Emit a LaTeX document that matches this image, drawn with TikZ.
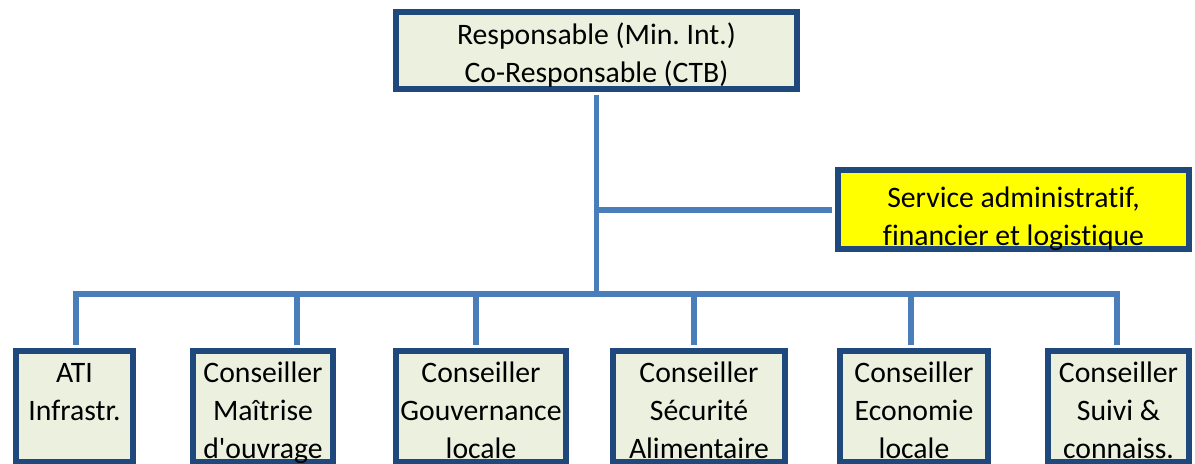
\documentclass[tikz,border=0pt]{standalone}
\usepackage{fontspec}
\setmainfont{Carlito}[Ligatures=NoCommon]
\definecolor{lnblue}{HTML}{4A7EBB}
\definecolor{bddark}{HTML}{1F497D}
\definecolor{bxfill}{HTML}{EBF1DE}
\definecolor{svyellow}{HTML}{FFFF00}
\tikzset{
  box/.style={draw=bddark,line width=3.4pt,fill=bxfill,align=flush center,inner sep=0pt,anchor=north,
              font=\fontsize{16.9}{21.6}\selectfont\frenchspacing},
  link/.style={draw=lnblue,line width=3.4pt},
}

\begin{document}
\begin{tikzpicture}[
  head/.style={box,text width=8.02cm,text height=18.5pt,text depth=25.3pt},
  svc/.style={box,fill=svyellow,text width=7.02cm,text height=21.3pt,text depth=23.7pt},
  low/.style={box,text height=18.2pt,text depth=45pt}]
\useasboundingbox (0,0) rectangle (23.9,9.28);
% head and service
\node[head] (top) at (11.93,9.10) {Responsable (Min. Int.)\\Co-Responsable (CTB)};
\node[svc] (adm) at (20.27,5.94) {Service administratif,\\financier et logistique};
% advisers
\node[low,text width=2.34cm] (b1) at (1.49,2.32) {ATI\\Infrastr.};
\node[low,text width=2.80cm] (b2) at (5.26,2.32) {Conseiller\\Maîtrise\\d\textquotesingle ouvrage};
\node[low,text width=3.40cm] (b3) at (9.62,2.32) {Conseiller\\Gouvernance\\locale};
\node[low,text width=3.44cm] (b4) at (13.98,2.32) {Conseiller\\Sécurité\\Alimentaire};
\node[low,text width=2.96cm] (b5) at (18.28,2.32) {Conseiller\\Economie\\locale};
\node[low,text width=2.82cm] (b6) at (22.37,2.32) {Conseiller\\Suivi \&\\connaiss.};
% bus
\coordinate (d1) at (1.52,3.40);
\coordinate (d2) at (5.94,3.40);
\coordinate (d3) at (9.52,3.40);
\coordinate (d4) at (13.88,3.40);
\coordinate (d5) at (18.22,3.40);
\coordinate (d6) at (22.34,3.40);
\draw[link,shorten <=1.7pt] (top.south) -- (top.south |- d1);
\draw[link,shorten >=1.7pt] (top.south |- adm.west) -- (adm.west);
\draw[link,shorten <=1.7pt,shorten >=1.7pt] (d1 |- b1.north) -- (d1) -- (d6) -- (d6 |- b6.north);
\foreach \i in {2,...,5} \draw[link,shorten >=1.7pt] (d\i) -- (d\i |- b\i.north);
\end{tikzpicture}
\end{document}
